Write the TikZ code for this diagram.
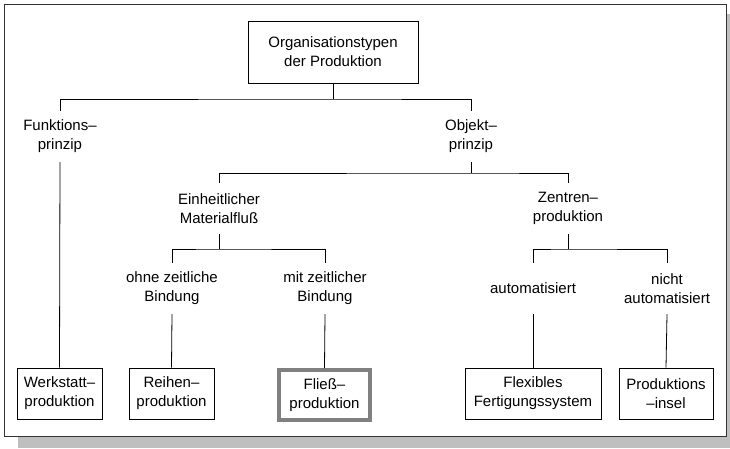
\documentclass[tikz,border=0pt]{standalone}
\usepackage{fontspec}
\setmainfont{Liberation Sans}
\begin{document}
\begin{tikzpicture}[x=1pt,y=-1pt,
  every node/.style={font=\fontsize{15}{19}\selectfont, align=center, inner sep=0pt},
  lbl/.style={minimum height=51pt},
  leaf/.style={draw=black, line width=0.8pt, minimum height=51pt},
  hilite/.style={draw=black!50, line width=4pt, minimum height=50pt},
  conn/.style={draw=black, line width=0.8pt}]
\useasboundingbox (0,0) rectangle (730,448);
% frame with shadow
\fill[black!25] (18,14) rectangle (730,448);
\draw[fill=white, draw=black!80, line width=0.8pt] (4,4) rectangle (726,436);
% nodes
\node[draw=black, line width=0.8pt, minimum width=170pt, minimum height=62pt] (top) at (333,52) {Organisationstypen\\der Produktion};
\node[lbl] (funk) at (60,136.5) {Funktions–\\prinzip};
\node[lbl] (obj) at (471,136.5) {Objekt–\\prinzip};
\node[lbl] (einh) at (219,208.5) {Einheitlicher\\Materialfluß};
\node[lbl] (zent) at (568,208.5) {Zentren–\\produktion};
\node[lbl] (ohne) at (172,288.5) {ohne zeitliche\\Bindung};
\node[lbl] (mit) at (325,288.5) {mit zeitlicher\\Bindung};
\node[lbl] (auto) at (533,288.5) {automatisiert};
\node[lbl] (nicht) at (667,288.5) {nicht\\automatisiert};
\node[leaf, minimum width=85pt] (werk) at (59.5,393.5) {Werkstatt–\\produktion};
\node[leaf, minimum width=85pt] (reih) at (171.5,393.5) {Reihen–\\produktion};
\node[hilite, minimum width=91pt] (flie) at (324.5,395) {Fließ–\\produktion};
\node[leaf, minimum width=136pt] (flex) at (533,393.5) {Flexibles\\Fertigungssystem};
\node[leaf, minimum width=94pt] (insel) at (666,393.5) {Produktions\\–insel};
% junctions
\coordinate (j1) at (333,99);
\coordinate (j2) at (471,173);
\coordinate (j3) at (219,249);
\coordinate (j4) at (568,249);
% connectors
\draw[conn] (top.south) -- (j1);
\draw[conn] (funk.north) |- (j1) -| (obj.north);
\draw[conn] (obj.south) -- (j2);
\draw[conn] (einh.north) |- (j2) -| (zent.north);
\draw[conn] (einh.south) -- (j3);
\draw[conn] (ohne.north) |- (j3) -| (mit.north);
\draw[conn] (zent.south) -- (j4);
\draw[conn] (auto.north) |- (j4) -| (nicht.north);
\draw[conn] (funk.south) -- (werk.north);
\draw[conn] (ohne.south) -- (reih.north);
\draw[conn] (mit.south) -- (flie.north);
\draw[conn] (auto.south) -- (flex.north);
\draw[conn] (nicht.south) -- (insel.north);
\end{tikzpicture}
\end{document}
